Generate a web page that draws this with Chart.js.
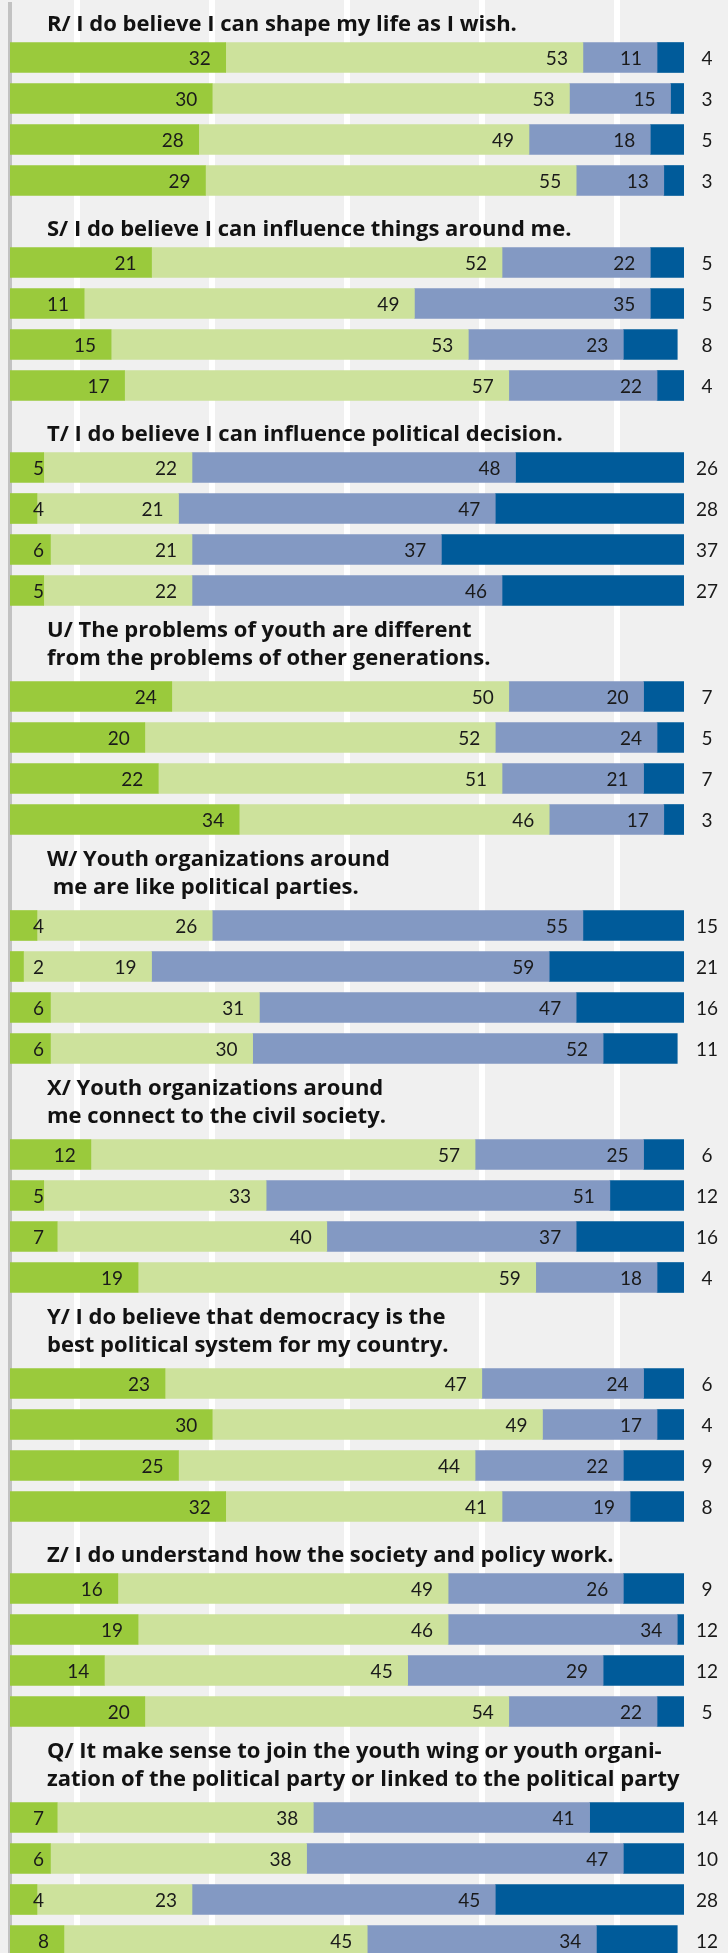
<!DOCTYPE html>
<html>
<head>
<meta charset="utf-8">
<title>Youth attitudes</title>
<script src="https://cdn.jsdelivr.net/npm/chart.js@4.4.1/dist/chart.umd.min.js"></script>
<style>
  html, body { margin: 0; padding: 0; background: #f0f0f0; overflow: hidden; }
  #charts { width: 728px; }
  #charts canvas { display: block; }
</style>
</head>
<body>
<div id="charts"></div>
<script>
// ── Statements (one block of four bars each) ──────────────────────
const titles = [
  ["R/ I do believe I can shape my life as I wish."],
  ["S/ I do believe I can influence things around me."],
  ["T/ I do believe I can influence political decision."],
  ["U/ The problems of youth are different", "from the problems of other generations."],
  ["W/ Youth organizations around", " me are like political parties."],
  ["X/ Youth organizations around", "me connect to the civil society."],
  ["Y/ I do believe that democracy is the", "best political system for my country."],
  ["Z/ I do understand how the society and policy work."],
  ["Q/ It make sense to join the youth wing or youth organi-", "zation of the political party or linked to the political party"],
];

const rowLabels = ["1", "2", "3", "4"];

// ── Answer shares, %, four rows per statement ─────────────────────
const stronglyAgree = [
  32, 30, 28, 29,   21, 11, 15, 17,   5, 4, 6, 5,
  24, 20, 22, 34,   4, 2, 6, 6,       12, 5, 7, 19,
  23, 30, 25, 32,   16, 19, 14, 20,   7, 6, 4, 8,
];
const agree = [
  53, 53, 49, 55,   52, 49, 53, 57,   22, 21, 21, 22,
  50, 52, 51, 46,   26, 19, 31, 30,   57, 33, 40, 59,
  47, 49, 44, 41,   49, 46, 45, 54,   38, 38, 23, 45,
];
const disagree = [
  11, 15, 18, 13,   22, 35, 23, 22,   48, 47, 37, 46,
  20, 24, 21, 17,   55, 59, 47, 52,   25, 51, 37, 18,
  24, 17, 22, 19,   26, 34, 29, 22,   41, 47, 45, 34,
];
const stronglyDisagree = [
  4, 3, 5, 3,       5, 5, 8, 4,       26, 28, 37, 27,
  7, 5, 7, 3,       15, 21, 16, 11,   6, 12, 16, 4,
  6, 4, 9, 8,       9, 12, 12, 5,     14, 10, 28, 12,
];

const seriesNames = ["Strongly agree", "Agree", "Disagree", "Strongly disagree"];
const gridTicks   = [10, 30, 50, 70, 90];

// ── Look ──────────────────────────────────────────────────────────
const COLORS    = ["#9aca3c", "#cde29c", "#8399c3", "#005b9a"];
const BG        = "#f0f0f0";
const ROW_H     = 41;
const BAR_H     = 30;
const PAGE_W    = 728;
const PLOT_L    = 10;
const PLOT_R    = 684;
const TITLE_FONT = "bold 22px 'Open Sans', Lato, sans-serif";
const VALUE_FONT = "19px Lato, 'Open Sans', sans-serif";


// backdrop: grey page, left rule and the white guide lines
const backdrop = {
  id: "backdrop",
  beforeDraw(chart) {
    const { ctx, width, height } = chart;
    const x = chart.scales.x;
    ctx.save();
    ctx.fillStyle = BG;
    ctx.fillRect(0, 0, width, height);

    ctx.fillStyle = "#ffffff";
    gridTicks.forEach(v => {
      const px = Math.round(x.getPixelForValue(v));
      ctx.fillRect(px - 3, 0, 6, height);
    });

    ctx.fillStyle = "#c2c2c2";
    const top = chart.options.plugins.backdrop.first ? 2 : 0;
    ctx.fillRect(8, top, 4, height - top);
    ctx.restore();
  }
};

// statement heading above each block
const heading = {
  id: "heading",
  afterDraw(chart) {
    const o = chart.options.plugins.heading;
    const { ctx } = chart;
    ctx.save();
    ctx.font = TITLE_FONT;
    ctx.fillStyle = "#121212";
    ctx.textAlign = "left";
    ctx.textBaseline = "alphabetic";
    const barTop = chart.chartArea.top + (ROW_H - BAR_H) / 2;
    const lastBase = barTop - (o.lines.length > 1 ? 17 : 12);
    o.lines.forEach((line, i) => {
      const y = lastBase - (o.lines.length - 1 - i) * 28;
      ctx.fillText(line, 47, y);
    });
    ctx.restore();
  }
};

// numbers inside the segments, last one outside the bar
const values = {
  id: "values",
  afterDatasetsDraw(chart) {
    const { ctx, chartArea } = chart;
    ctx.save();
    ctx.font = VALUE_FONT;
    ctx.fillStyle = "#1a1a1a";
    ctx.textBaseline = "middle";
    chart.data.datasets.forEach((ds, di) => {
      chart.getDatasetMeta(di).data.forEach((bar, i) => {
        const v = ds.data[i];
        if (di === 3) {
          ctx.textAlign = "center";
          ctx.fillText(v, chartArea.right + 23, bar.y + 1);
        } else {
          ctx.textAlign = "right";
          const right = Math.max(bar.x - 15, chartArea.left + 34);
          ctx.fillText(v, right, bar.y + 1);
        }
      });
    });
    ctx.restore();
  }
};


function headerHeight(idx) {
  if (idx === 0) return 37;
  return titles[idx].length > 1 ? 65 : 41;
}

function drawBlock(idx) {
  const head   = headerHeight(idx);
  const canvas = document.createElement("canvas");
  canvas.width  = PAGE_W;
  canvas.height = head + ROW_H * rowLabels.length;
  document.getElementById("charts").appendChild(canvas);

  const from = idx * rowLabels.length;
  const to   = from + rowLabels.length;
  const series = [stronglyAgree, agree, disagree, stronglyDisagree];

  new Chart(canvas, {
    type: "bar",
    data: {
      labels: rowLabels,
      datasets: series.map((s, i) => ({
        label: seriesNames[i],
        data: s.slice(from, to),
        backgroundColor: COLORS[i],
        borderWidth: 0,
        barThickness: BAR_H,
      }))
    },
    options: {
      indexAxis: "y",
      responsive: false,
      animation: false,
      devicePixelRatio: 1,
      layout: { padding: { left: PLOT_L, right: PAGE_W - PLOT_R, top: head, bottom: 0 } },
      scales: {
        x: { stacked: true, min: 0, max: 100, display: false },
        y: { stacked: true, display: false }
      },
      plugins: {
        legend:   { display: false },
        tooltip:  { enabled: false },
        backdrop: { first: idx === 0 },
        heading:  { lines: titles[idx] },
      }
    },
    plugins: [backdrop, heading, values]
  });
}

titles.forEach((_, i) => drawBlock(i));
</script>
</body>
</html>
